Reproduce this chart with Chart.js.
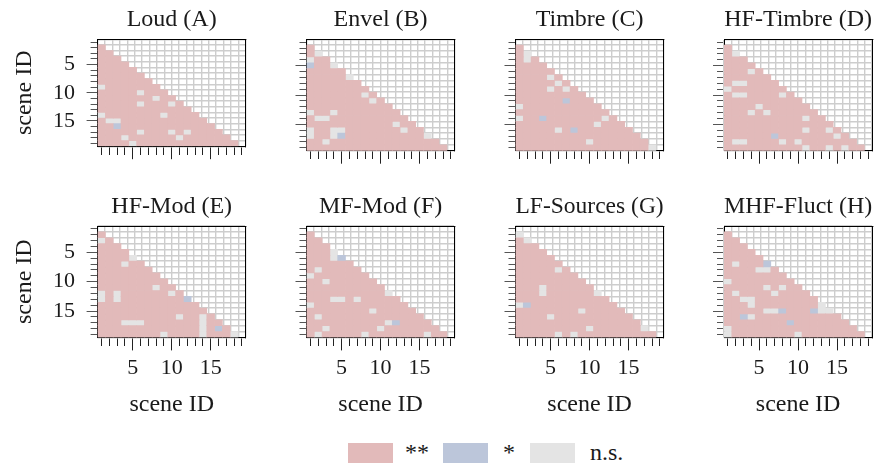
<!DOCTYPE html>
<html>
<head>
<meta charset="utf-8">
<script src="https://cdn.jsdelivr.net/npm/chart.js@4.4.1/dist/chart.umd.min.js"></script>
<style>
  body { margin:0; background:#fff; width:881px; height:466px; overflow:hidden; position:relative;
         font-family:'Liberation Serif', 'Times New Roman', serif; color:#1a1a1a; }
  canvas { position:absolute; }
  .key { position:absolute; top:443px; width:45px; height:20px; }
  .keytxt { position:absolute; top:440px; font-size:24px; line-height:24px; }
</style>
</head>
<body>

<div class="key" style="left:348px;background:#e2baba"></div><span class="keytxt" style="left:405px">**</span>
<div class="key" style="left:443px;background:#bcc6da"></div><span class="keytxt" style="left:503px">*</span>
<div class="key" style="left:530px;background:#e4e4e4"></div><span class="keytxt" style="left:590px">n.s.</span>

<script>
// ===== データ =====
const sceneIds = ['1','2','3','4','5','6','7','8','9','10','11','12','13','14','15','16','17','18','19'];
const labelTicks = ['5','10','15'];
const panelTitles = ['Loud (A)','Envel (B)','Timbre (C)','HF-Timbre (D)',
                     'HF-Mod (E)','MF-Mod (F)','LF-Sources (G)','MHF-Fluct (H)'];
// 0 = n.s., 1 = *, 2 = **
const sigLabels = ['n.s.', '*', '**'];
const sigColors = ['#e4e4e4', '#bcc6da', '#e2baba'];

// 行 = scene ID 1..19（上から）、各行は列 1..(行-1)
const loudSig = [
  '', '2', '22', '222', '2222', '22222', '222222', '2222222',
  '02222222', '222220222', '2222222022', '22222022202', '222222222222',
  '0222222202222', '20022222222222', '221222222222222', '2222202220202222',
  '22202222220222222', '222202222222222222'
];
const envelSig = [
  '', '2', '20', '022', '1220', '22222', '222220', '2222222',
  '22222222', '222222202', '2222222202', '22222222222', '022022222222',
  '2002222222222', '22222222222022', '022002222222022', '0220122222222220',
  '22022222222222222', '222222222222222222'
];
const timbreSig = [
  '', '2', '20', '202', '2222', '22222', '222202', '2222202',
  '22220202', '222222222', '2222221222', '02222222222', '222222222222',
  '0221222222202', '22222222220222', '222220212222222', '2222222222222222',
  '22222222202222222', '222222222222222220'
];
const hfTimbreSig = [
  '', '2', '20', '222', '2222', '22202', '222222', '2002222',
  '02222222', '200222202', '2222222222', '22220222222', '222020222222',
  '2222222222022', '22222222222222', '222222222202202', '2222221222222202',
  '20022220202222222', '222222222202202022'
];
const hfModSig = [
  '', '2', '02', '222', '2222', '22220', '222022', '2222222',
  '22222222', '222222222', '2222222022', '02022222202', '020222222221',
  '2222222222222', '22222222222222', '222222222202202', '2220002222222022',
  '22222222222220212', '222222220222202220'
];
const mfModSig = [
  '', '2', '22', '222', '2220', '22201', '222222', '2022222',
  '02222222', '220222222', '2222222222', '22222222220', '222002022222',
  '0222222222222', '22222222022222', '202222222222222', '2222222222012222',
  '22022222202222222', '202222202222222022'
];
const lfSourcesSig = [
  '', '0', '20', '222', '2222', '22222', '222222', '2222202',
  '22222222', '222222222', '2220222222', '22202222220', '222222222222',
  '0122222222222', '22222222022222', '222202222222222', '2222222222222222',
  '22222222202222220', '222220202222222222'
];
const mhfFluctSig = [
  '', '2', '22', '222', '2222', '22222', '202221', '2222002',
  '22222222', '022222222', '2222202022', '20222202222', '220022222222',
  '2220222222220', '22222001222100', '221022222222222', '2222222212222222',
  '02222222222222222', '022222222022222222'
];
const panelData = [loudSig, envelSig, timbreSig, hfTimbreSig,
                   hfModSig, mfModSig, lfSourcesSig, mhfFluctSig];

// ===== レイアウト =====
const FONT = "'Liberation Serif', 'Times New Roman', serif";
const plotLeft = [97.6, 306.5, 515.5, 724.0];
const plotW = 148.2, plotH = 111.4;
const rowLayout = [
  { canvasTop: 0,   plotTop: 39.3, height: 171, titleMid: 20.2 },
  { canvasTop: 187, plotTop: 226,  height: 240, titleMid: 19.9 }
];

Chart.defaults.font.family = FONT;
Chart.defaults.color = '#1a1a1a';

const isMajor = v => labelTicks.includes(String(v));

function cellsFor(rows, code){
  const out = [];
  rows.forEach((row, r) => {
    [...row].forEach((ch, c) => {
      if (Number(ch) === code) out.push({ x: sceneIds[c], y: [Number(sceneIds[r]) - 0.5, Number(sceneIds[r]) + 0.5] });
    });
  });
  return out;
}

const cellEdges = [0.5, ...sceneIds.map(v => Number(v) + 0.5)];

panelData.forEach((rows, i) => {
  const col = i % 4, row = Math.floor(i / 4);
  const R = rowLayout[row];
  const isLeft = col === 0, isBottom = row === 1;
  const canvasLeft = isLeft ? 0 : Math.floor(plotLeft[col] - 20);
  const yw = plotLeft[col] - canvasLeft;
  const canvasW = Math.ceil(yw + plotW + 4);
  const padRight = canvasW - yw - plotW;
  const topBlock = R.plotTop - R.canvasTop;
  const xh = R.height - topBlock - plotH;
  const tPadTop = R.titleMid - 14.4;
  const tPadBottom = topBlock - 28.8 - tPadTop;

  const cv = document.createElement('canvas');
  cv.width = canvasW; cv.height = R.height;
  cv.style.left = canvasLeft + 'px'; cv.style.top = R.canvasTop + 'px';
  cv.style.width = canvasW + 'px'; cv.style.height = R.height + 'px';
  document.body.appendChild(cv);

  const datasets = [2, 1, 0].map(code => ({
    label: sigLabels[code],
    data: cellsFor(rows, code),
    backgroundColor: sigColors[code],
    borderWidth: 0,
    grouped: false,
    barPercentage: 1,
    categoryPercentage: 1,
    xAxisID: 'x', yAxisID: 'y'
  }));

  new Chart(cv, {
    type: 'bar',
    data: { labels: sceneIds, datasets },
    options: {
      responsive: false, maintainAspectRatio: false, animation: false,
      layout: { padding: { left: 0, top: 0, bottom: 0, right: padRight } },
      plugins: {
        legend: { display: false },
        tooltip: { enabled: false },
        title: { display: true, text: panelTitles[i], fullSize: false, color: '#1a1a1a',
                 font: { family: FONT, size: 24, weight: 'normal' },
                 padding: { top: tPadTop, bottom: tPadBottom } }
      },
      scales: {
        x: {
          type: 'category', axis: 'x', position: 'bottom', offset: true, z: 1,
          grid: { drawOnChartArea: false, offset: false, tickLength: 13, tickColor: '#222', tickWidth: 1,
                  tickBorderDash: c => isMajor(sceneIds[c.index]) ? [] : [8, 100] },
          border: { display: true, color: '#000', width: 1 },
          ticks: { display: isBottom, autoSkip: false, maxRotation: 0, padding: 4.2,
                   font: { family: FONT, size: 22 }, color: '#1a1a1a',
                   callback: (v, idx) => isMajor(sceneIds[idx]) ? sceneIds[idx] : '' },
          title: { display: isBottom, text: 'scene ID', color: '#1a1a1a',
                   font: { family: FONT, size: 24 }, padding: { top: 0, bottom: 7.4 } },
          afterFit: s => { s.height = xh; }
        },
        y: {
          type: 'linear', axis: 'y', position: 'left', reverse: true, min: 0.5, max: 19.5, z: 1,
          afterBuildTicks: s => { s.ticks = sceneIds.map(v => ({ value: Number(v) })); },
          grid: { drawOnChartArea: false, tickLength: 11, tickColor: '#555', tickWidth: 1,
                  tickBorderDash: c => (c.tick && isMajor(c.tick.value)) ? [] : [100, 4],
                  tickBorderDashOffset: c => (c.tick && isMajor(c.tick.value)) ? 0 : 100 },
          border: { display: true, color: '#000', width: 1 },
          ticks: { display: isLeft, autoSkip: false, padding: 11.6, font: { family: FONT, size: 22 }, color: '#1a1a1a',
                   callback: v => isMajor(v) ? String(v) : '' },
          title: { display: isLeft, text: 'scene ID', color: '#1a1a1a',
                   font: { family: FONT, size: 24 }, padding: { top: 10.5, bottom: 0 } },
          afterFit: s => { s.width = yw; }
        },
        gx: {
          type: 'linear', axis: 'x', position: 'top', min: 0.5, max: 19.5, z: 1,
          afterBuildTicks: s => { s.ticks = cellEdges.map(v => ({ value: v })); },
          grid: { color: '#cdcdcd', lineWidth: 1.4, drawTicks: false },
          border: { display: true, color: '#000', width: 1 },
          ticks: { display: false },
          afterFit: s => { s.height = 0; }
        },
        gy: {
          type: 'linear', axis: 'y', position: 'right', reverse: true, min: 0.5, max: 19.5, z: 1,
          afterBuildTicks: s => { s.ticks = cellEdges.map(v => ({ value: v })); },
          grid: { color: '#cdcdcd', lineWidth: 1.4, drawTicks: false },
          border: { display: true, color: '#000', width: 1 },
          ticks: { display: false },
          afterFit: s => { s.width = 0; }
        }
      }
    }
  });
});
</script>
</body>
</html>
